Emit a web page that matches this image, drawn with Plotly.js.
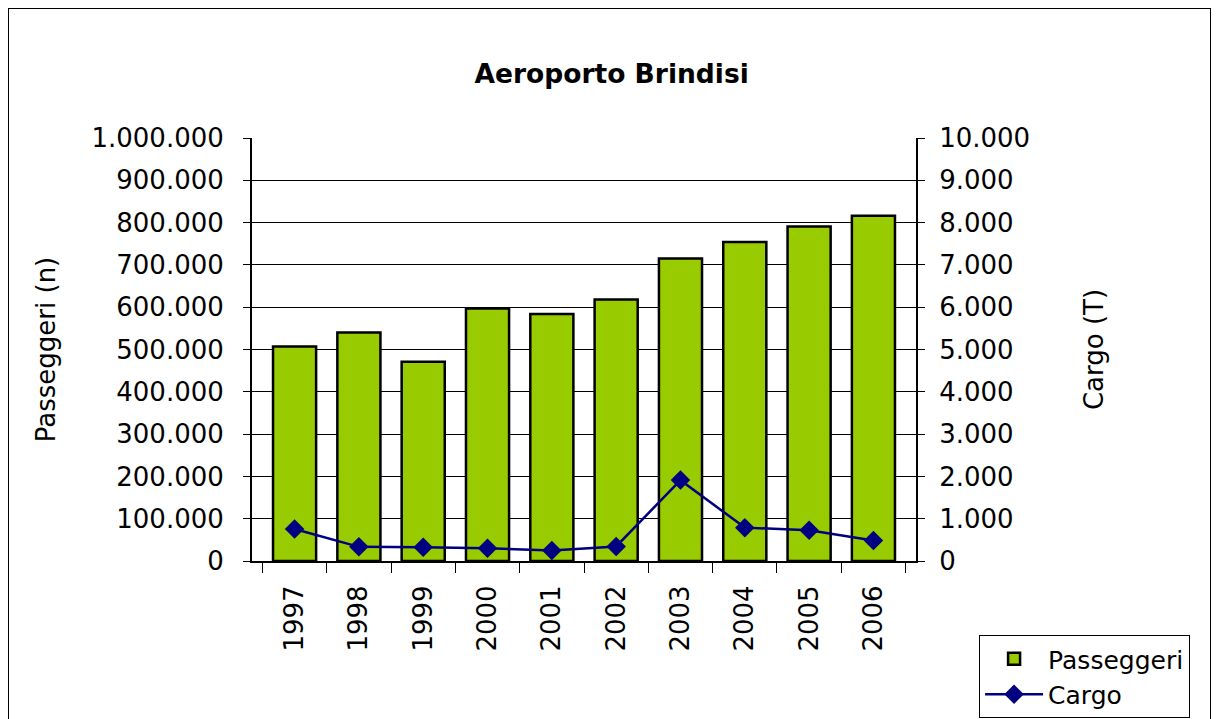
<!DOCTYPE html>
<html>
<head>
<meta charset="utf-8">
<script src="https://cdn.plot.ly/plotly-3.0.1.min.js"></script>
<style>
body { margin: 0; background: #fff; }
#wrap { position: relative; width: 1216px; height: 719px; overflow: hidden; }
#chart { width: 1216px; height: 719px; }
#frame { position: absolute; left: 8px; top: 8px; width: 1201px; height: 730px; border: 1px solid #000; pointer-events: none; }
</style>
</head>
<body>
<div id="wrap"><div id="chart"></div><div id="frame"></div></div>
<script>
const years = ['1997','1998','1999','2000','2001','2002','2003','2004','2005','2006'];
const passeggeri = [507000, 540000, 471000, 597000, 584000, 618000, 715000, 754000, 791000, 816000];
const cargo = [757, 335, 327, 303, 247, 343, 1912, 789, 725, 486];

const font = 'DejaVu Sans, Verdana, sans-serif';
const fs = 26;

const traces = [
  {
    type: 'bar', name: 'Passeggeri', x: years, y: passeggeri,
    marker: { color: '#99CC00', line: { color: '#000000', width: 2.5 } },
    yaxis: 'y', hoverinfo: 'x+y'
  },
  {
    type: 'scatter', mode: 'lines+markers', name: 'Cargo', x: years, y: cargo,
    line: { color: '#000080', width: 2.5 },
    marker: { symbol: 'diamond', size: 15, color: '#000080' },
    yaxis: 'y2', hoverinfo: 'x+y'
  }
];

const layout = {
  width: 1216, height: 719,
  paper_bgcolor: '#fff', plot_bgcolor: '#fff',
  separators: ',.',
  font: { family: font, size: fs, color: '#000' },
  margin: { l: 252, r: 300, t: 138, b: 158, autoexpand: false },
  showlegend: true,
  bargap: 0.33,
  title: {
    text: '<b>Aeroporto Brindisi</b>',
    font: { family: font, size: 26.5, color: '#000' },
    xref: 'container', x: 0.503, xanchor: 'center',
    yref: 'container', y: 0.897, yanchor: 'middle'
  },
  xaxis: {
    type: 'category', automargin: false,
    tickangle: -90,
    ticks: 'outside', ticklen: 10, tickcolor: '#000', tickwidth: 1,
    tickson: 'boundaries',
    showline: true, linecolor: '#000', linewidth: 2,
    showgrid: false,
    ticklabelstandoff: 12,
    tickfont: { family: font, size: fs }
  },
  yaxis: {
    automargin: false,
    range: [0, 1000000], dtick: 100000, tick0: 0,
    tickformat: ',d',
    showgrid: true, gridcolor: '#000', gridwidth: 1,
    showline: true, linecolor: '#000', linewidth: 2,
    ticks: 'outside', ticklen: 7, tickcolor: '#000',
    ticklabelstandoff: 14,
    zeroline: false,
    tickfont: { family: font, size: fs },
    title: { text: 'Passeggeri (n)', font: { family: font, size: fs }, standoff: 28 }
  },
  yaxis2: {
    automargin: false,
    overlaying: 'y', side: 'right',
    range: [0, 10000], dtick: 1000, tick0: 0,
    tickformat: ',d',
    showgrid: false, zeroline: false,
    showline: true, linecolor: '#000', linewidth: 2,
    ticks: 'outside', ticklen: 7, tickcolor: '#000',
    ticklabelstandoff: 9,
    tickfont: { family: font, size: fs },
    title: { text: 'Cargo (T)', font: { family: font, size: fs }, standoff: 56 }
  },
  legend: {
    x: 1.095, xanchor: 'left', y: -0.175, yanchor: 'top',
    bgcolor: '#fff', bordercolor: '#000', borderwidth: 1,
    font: { family: font, size: 25, color: '#000' },
    itemwidth: 58, tracegroupgap: 0
  }
};

Plotly.newPlot('chart', traces, layout, { displayModeBar: false, staticPlot: true });
</script>
</body>
</html>
